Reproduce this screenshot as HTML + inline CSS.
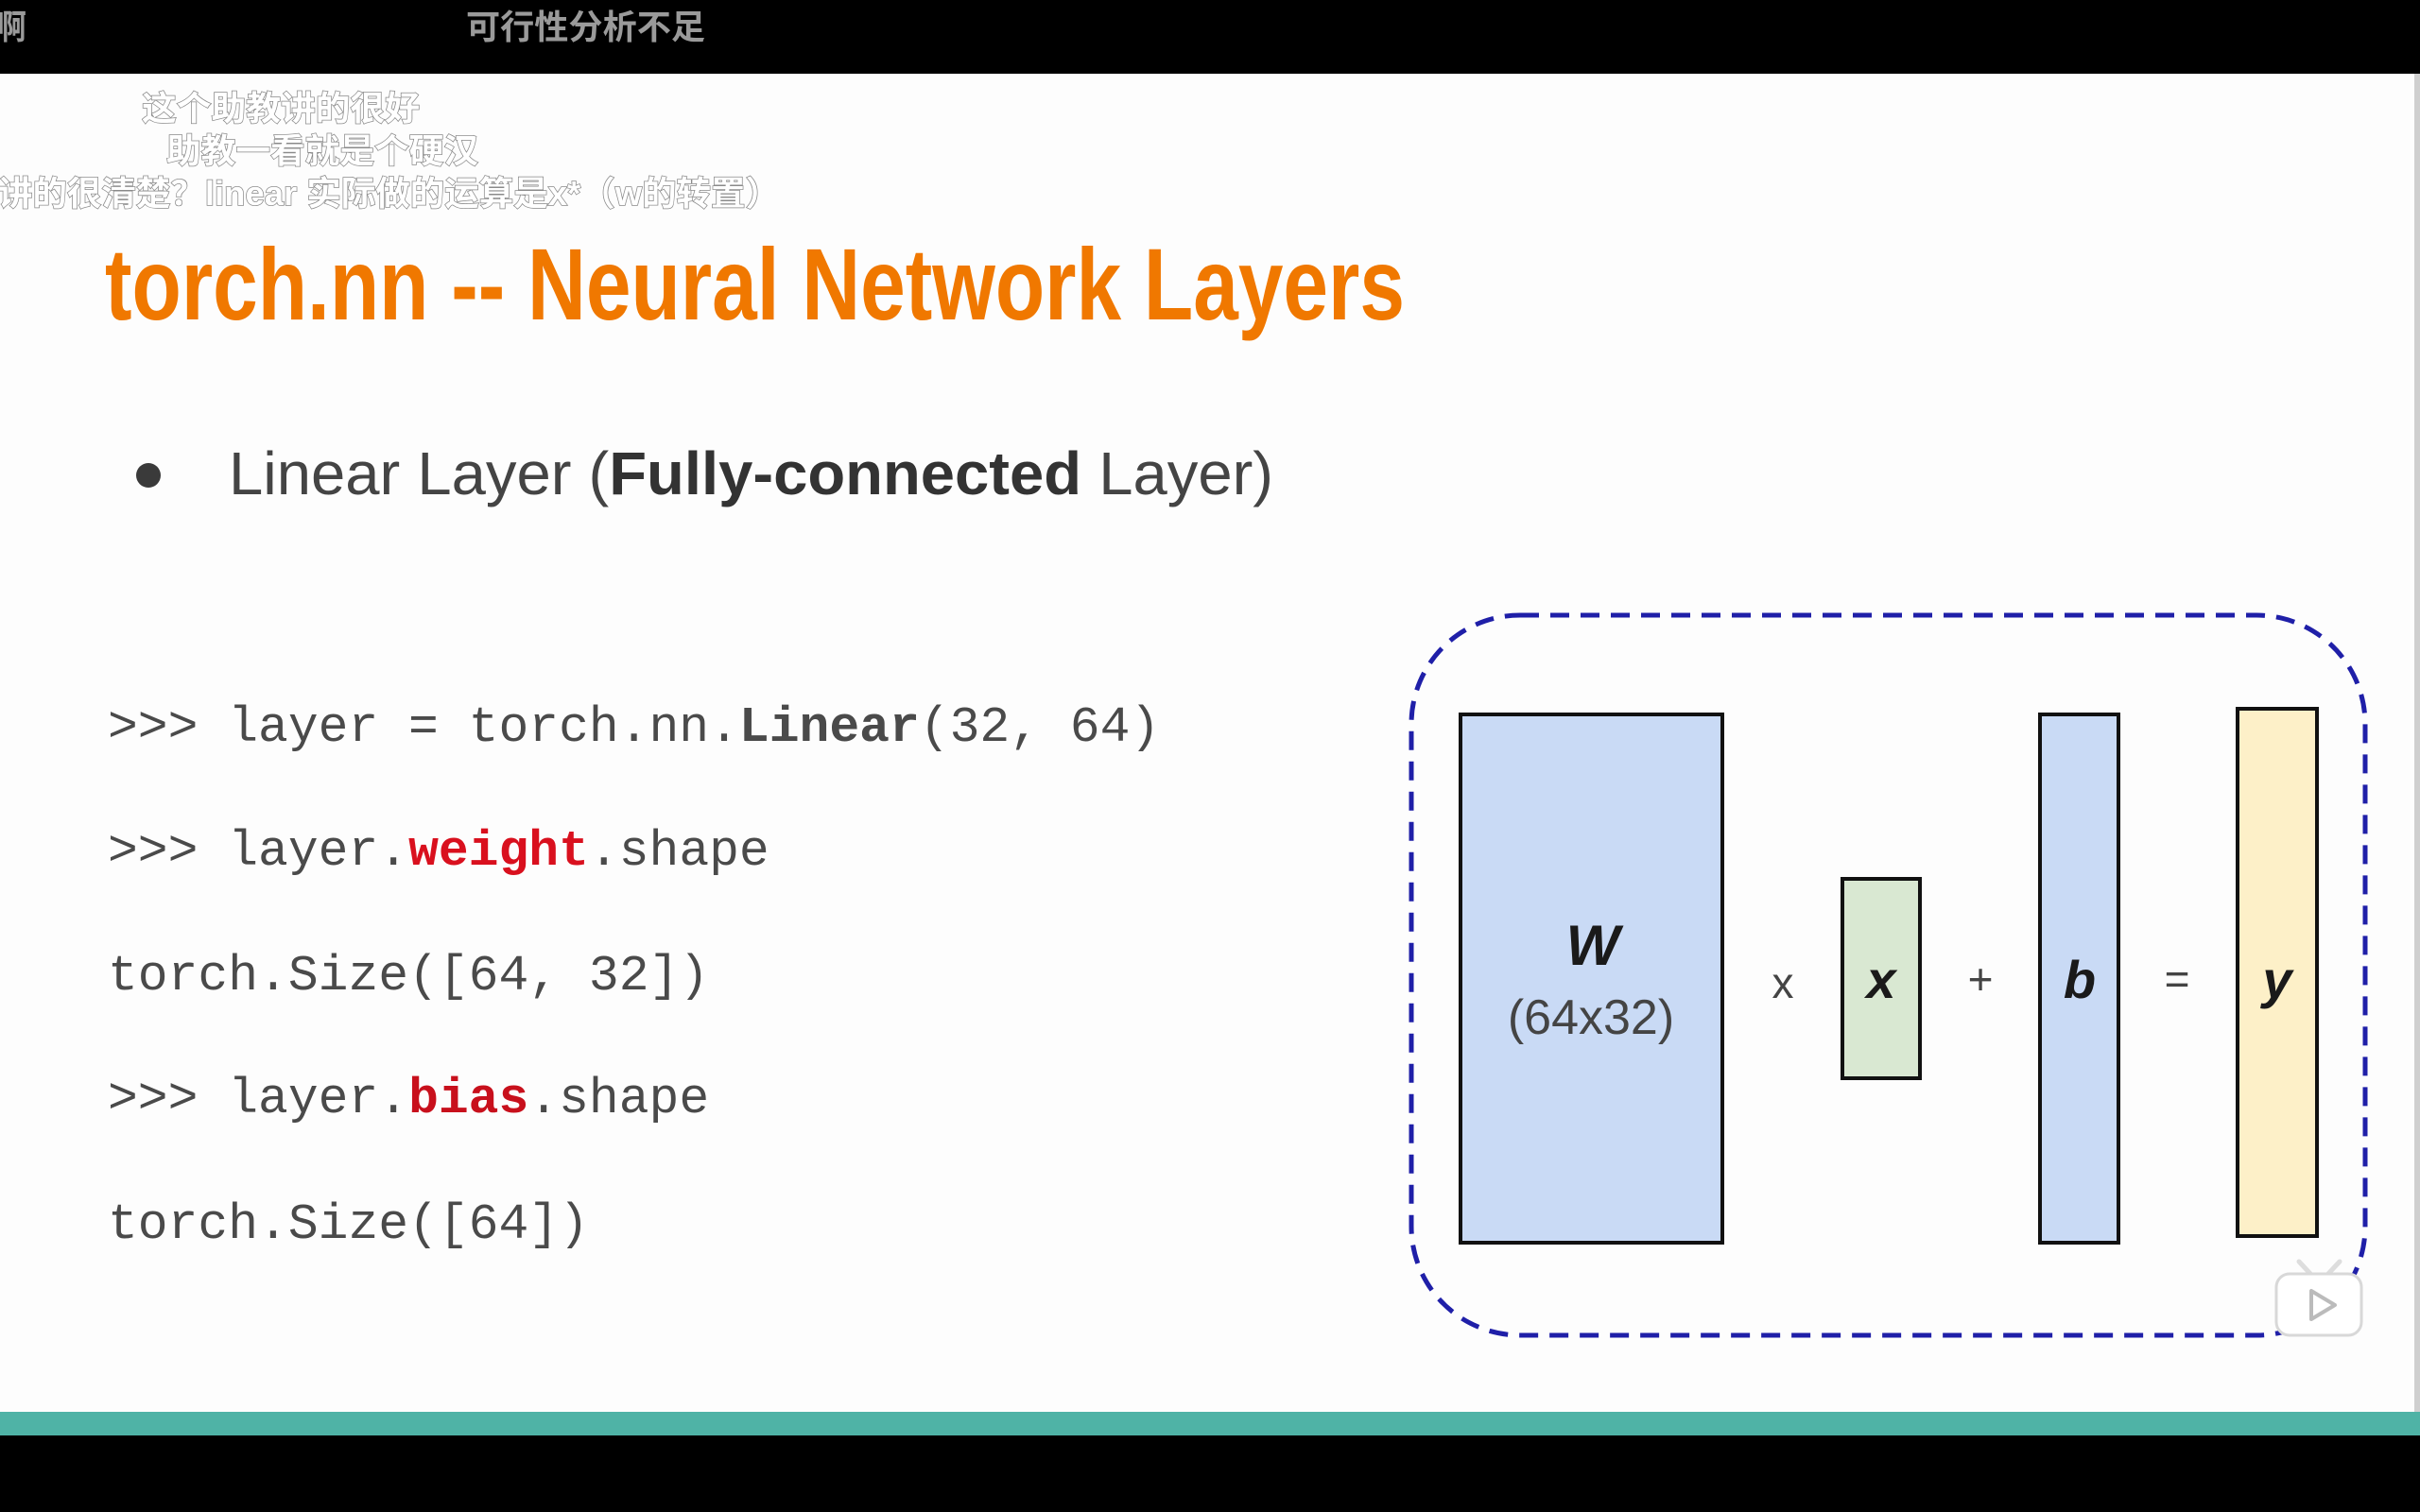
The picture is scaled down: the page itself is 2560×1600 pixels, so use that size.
<!DOCTYPE html>
<html><head><meta charset="utf-8"><style>
html,body{margin:0;padding:0;background:#000;}
svg{display:block;}
</style></head><body>
<svg width="2560" height="1600" viewBox="0 0 2560 1600" xmlns="http://www.w3.org/2000/svg">
<rect x="0" y="0" width="2560" height="1600" fill="#000"/>
<rect x="0" y="78" width="2560" height="1416" fill="#fdfdfd"/>
<rect x="2554" y="78" width="6" height="1416" fill="#cfcfcf"/>
<rect x="0" y="1494" width="2560" height="25" fill="#4fb3a6"/>

<g font-family="Liberation Sans, Noto Sans CJK SC, sans-serif" font-weight="bold" font-size="36">
<text x="-8" y="41" fill="#9a9a9a">啊</text>
<text x="493" y="41" fill="#9a9a9a" textLength="253" lengthAdjust="spacingAndGlyphs">可行性分析不足</text>
</g>
<g font-family="Liberation Sans, Noto Sans CJK SC, sans-serif" font-weight="bold" font-size="36" fill="#fff" stroke="#8a8a8a" stroke-width="1.5" paint-order="stroke">
<text x="150" y="127" textLength="294" lengthAdjust="spacingAndGlyphs">这个助教讲的很好</text>
<text x="176" y="172" textLength="330" lengthAdjust="spacingAndGlyphs">助教一看就是个硬汉</text>
<text x="-2" y="217" textLength="827" lengthAdjust="spacingAndGlyphs">讲的很清楚？linear 实际做的运算是x*（w的转置）</text>
</g>

<text x="111" y="338" font-family="Liberation Sans, sans-serif" font-weight="bold" font-size="108" fill="#f07800" textLength="1375" lengthAdjust="spacingAndGlyphs">torch.nn -- Neural Network Layers</text>

<circle cx="157" cy="503" r="13" fill="#3a3a3a"/>
<text x="242" y="523" font-family="Liberation Sans, sans-serif" font-size="64" fill="#444" textLength="1105" lengthAdjust="spacingAndGlyphs">Linear Layer (<tspan font-weight="bold" fill="#333">Fully-connected</tspan> Layer)</text>

<g font-family="Liberation Mono, monospace" font-size="53" fill="#4a4a4a">
<text x="114" y="784">&gt;&gt;&gt; layer = torch.nn.<tspan font-weight="bold">Linear</tspan>(32, 64)</text>
<text x="114" y="915">&gt;&gt;&gt; layer.<tspan font-weight="bold" fill="#d9101e">weight</tspan>.shape</text>
<text x="114" y="1047">torch.Size([64, 32])</text>
<text x="114" y="1177">&gt;&gt;&gt; layer.<tspan font-weight="bold" fill="#c8101c">bias</tspan>.shape</text>
<text x="114" y="1310">torch.Size([64])</text>
</g>

<rect x="1493" y="651" width="1009" height="762" rx="115" ry="115" fill="none" stroke="#1f1fa8" stroke-width="5" stroke-dasharray="20 12"/>
<rect x="1545" y="756" width="277" height="559" fill="#c9daf5" stroke="#111" stroke-width="4"/>
<rect x="1949" y="930" width="82" height="211" fill="#d9e8d2" stroke="#111" stroke-width="4"/>
<rect x="2158" y="756" width="83" height="559" fill="#c9daf5" stroke="#111" stroke-width="4"/>
<rect x="2367" y="750" width="84" height="558" fill="#fdf0c8" stroke="#111" stroke-width="4"/>
<g font-family="Liberation Sans, sans-serif" text-anchor="middle" fill="#1a1a1a">
<text x="1685" y="1021" font-size="60" font-weight="bold" font-style="italic">W</text>
<text x="1683" y="1094" font-size="52" fill="#444">(64x32)</text>
<text x="1886" y="1056" font-size="46" fill="#444">x</text>
<text x="1990" y="1056" font-size="56" font-weight="bold" font-style="italic">x</text>
<text x="2095" y="1052" font-size="46" fill="#444">+</text>
<text x="2200" y="1056" font-size="56" font-weight="bold" font-style="italic">b</text>
<text x="2303" y="1052" font-size="46" fill="#444">=</text>
<text x="2409" y="1056" font-size="56" font-weight="bold" font-style="italic">y</text>
</g>

<g>
<line x1="2432" y1="1335" x2="2446" y2="1350" stroke="#ddd" stroke-width="5" stroke-linecap="round"/>
<line x1="2475" y1="1335" x2="2461" y2="1350" stroke="#ddd" stroke-width="5" stroke-linecap="round"/>
<rect x="2408" y="1348" width="90" height="65" rx="14" fill="#fff" stroke="#d8d8d8" stroke-width="3"/>
<path d="M2445 1366 L2445 1396 L2470 1381 Z" fill="none" stroke="#bbb" stroke-width="4" stroke-linejoin="round"/>
</g>
</svg>
</body></html>
